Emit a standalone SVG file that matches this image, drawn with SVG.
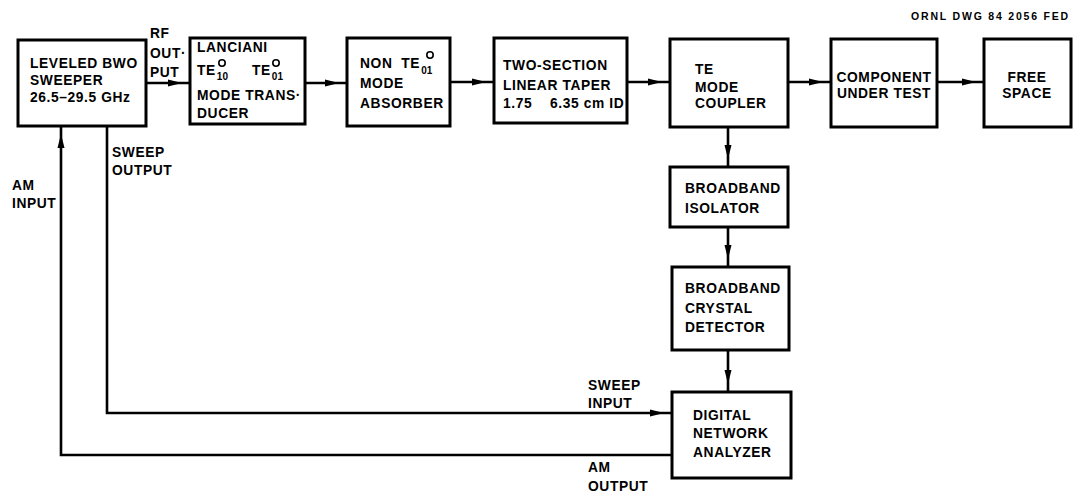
<svg xmlns="http://www.w3.org/2000/svg" width="1078" height="498" viewBox="0 0 1078 498">
<style>
.box{fill:#fff;stroke:#000;stroke-width:3}
.t{font-family:"Liberation Sans",Arial,sans-serif;font-weight:bold;font-size:13.8px;letter-spacing:0.6px;fill:#000}
.sub{font-size:10px;letter-spacing:0}
.ln{fill:none;stroke:#000;stroke-width:2.6}
.deg{fill:none;stroke:#000;stroke-width:1.6}
</style>
<defs>
<marker id="ah" markerUnits="userSpaceOnUse" markerWidth="30" markerHeight="10" refX="22" refY="4" orient="auto">
<path d="M0,0.5 L14,4 L0,7.5 z" fill="#000"/>
</marker>
</defs>
<rect width="1078" height="498" fill="#fff"/>
<text class="t" x="1070" y="20" text-anchor="end" style="font-size:10.5px;letter-spacing:1.8px">ORNL  DWG 84 2056  FED</text>

<g id="connectors">
<line class="ln" x1="147" y1="83" x2="190" y2="83" marker-end="url(#ah)"/>
<line class="ln" x1="305" y1="83" x2="347" y2="83" marker-end="url(#ah)"/>
<line class="ln" x1="450" y1="82" x2="494" y2="82" marker-end="url(#ah)"/>
<line class="ln" x1="627" y1="82" x2="670" y2="82" marker-end="url(#ah)"/>
<line class="ln" x1="788" y1="82" x2="831" y2="82" marker-end="url(#ah)"/>
<line class="ln" x1="937" y1="82" x2="984" y2="82" marker-end="url(#ah)"/>
<line class="ln" x1="728" y1="127" x2="728" y2="167" marker-end="url(#ah)"/>
<line class="ln" x1="728" y1="227" x2="728" y2="267" marker-end="url(#ah)"/>
<line class="ln" x1="728" y1="350" x2="728" y2="392" marker-end="url(#ah)"/>
<polyline class="ln" points="107,126 107,413 672,413" marker-end="url(#ah)"/>
<polyline class="ln" points="672,455 61,455 61,126" marker-end="url(#ah)"/>
<text class="t" x="150" y="38">RF</text>
<text class="t" x="150" y="58">OUT·</text>
<text class="t" x="150" y="77">PUT</text>
<text class="t" x="112" y="157">SWEEP</text>
<text class="t" x="112" y="175">OUTPUT</text>
<text class="t" x="12" y="190">AM</text>
<text class="t" x="12" y="208">INPUT</text>
<text class="t" x="588" y="390">SWEEP</text>
<text class="t" x="588" y="408">INPUT</text>
<text class="t" x="588" y="472">AM</text>
<text class="t" x="588" y="491">OUTPUT</text>
</g>

<g id="sweeper">
<rect class="box" x="18" y="40" width="128" height="86"/>
<text class="t" x="30" y="68">LEVELED BWO</text>
<text class="t" x="30" y="85">SWEEPER</text>
<text class="t" x="30" y="102">26.5–29.5 GHz</text>
</g>

<g id="transducer">
<rect class="box" x="190" y="38" width="115" height="86"/>
<text class="t" x="197" y="52">LANCIANI</text>
<text class="t" x="197" y="75">TE<tspan class="sub" dx="1" dy="5">10</tspan></text>
<circle class="deg" cx="222" cy="63" r="3.2"/>
<text class="t" x="252" y="75">TE<tspan class="sub" dx="1" dy="5">01</tspan></text>
<circle class="deg" cx="276" cy="63" r="3.2"/>
<text class="t" x="197" y="100">MODE TRANS·</text>
<text class="t" x="197" y="118">DUCER</text>
</g>

<g id="absorber">
<rect class="box" x="347" y="38" width="103" height="88"/>
<text class="t" x="360" y="68" xml:space="preserve">NON  TE<tspan class="sub" dx="1" dy="6">01</tspan></text>
<circle class="deg" cx="430" cy="55" r="3.2"/>
<text class="t" x="360" y="88">MODE</text>
<text class="t" x="360" y="108">ABSORBER</text>
</g>

<g id="taper">
<rect class="box" x="494" y="38" width="133" height="85"/>
<text class="t" x="503" y="70">TWO-SECTION</text>
<text class="t" x="503" y="90">LINEAR TAPER</text>
<text class="t" x="503" y="108" xml:space="preserve">1.75    6.35 cm ID</text>
</g>

<g id="coupler">
<rect class="box" x="670" y="39" width="118" height="88"/>
<text class="t" x="695" y="74">TE</text>
<text class="t" x="695" y="92">MODE</text>
<text class="t" x="695" y="108">COUPLER</text>
</g>

<g id="component">
<rect class="box" x="831" y="39" width="106" height="88"/>
<text class="t" x="884" y="82" text-anchor="middle">COMPONENT</text>
<text class="t" x="884" y="98" text-anchor="middle">UNDER TEST</text>
</g>

<g id="freespace">
<rect class="box" x="984" y="39" width="87" height="88"/>
<text class="t" x="1027" y="82" text-anchor="middle">FREE</text>
<text class="t" x="1027" y="98" text-anchor="middle">SPACE</text>
</g>

<g id="isolator">
<rect class="box" x="670" y="167" width="118" height="60"/>
<text class="t" x="685" y="193">BROADBAND</text>
<text class="t" x="685" y="213">ISOLATOR</text>
</g>

<g id="detector">
<rect class="box" x="672" y="267" width="117" height="83"/>
<text class="t" x="685" y="293">BROADBAND</text>
<text class="t" x="685" y="313">CRYSTAL</text>
<text class="t" x="685" y="332">DETECTOR</text>
</g>

<g id="analyzer">
<rect class="box" x="672" y="392" width="119" height="86"/>
<text class="t" x="693" y="420">DIGITAL</text>
<text class="t" x="693" y="438">NETWORK</text>
<text class="t" x="693" y="457">ANALYZER</text>
</g>
</svg>
